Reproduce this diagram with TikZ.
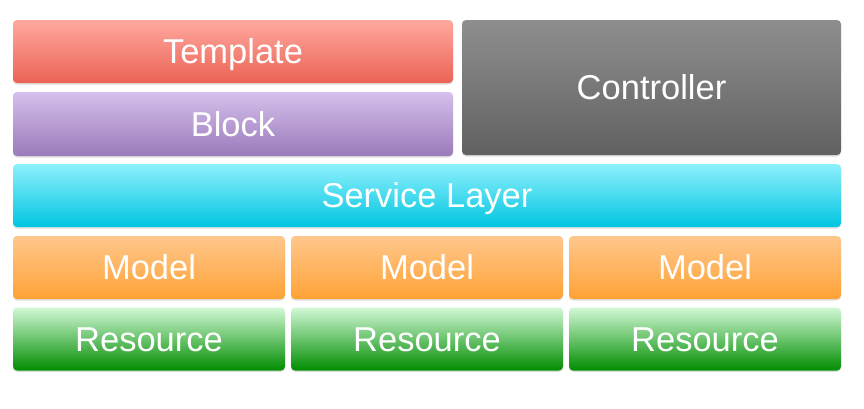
\documentclass[tikz,border=0pt]{standalone}
\usepackage{fontspec}
\setmainfont{Liberation Sans}
\usetikzlibrary{shadows}
\definecolor{tTop}{HTML}{FFA8A0}\definecolor{tBot}{HTML}{EC6354}
\definecolor{bTop}{HTML}{D5C0EC}\definecolor{bBot}{HTML}{9A7ABA}
\definecolor{cTop}{HTML}{8E8E8E}\definecolor{cBot}{HTML}{616161}
\definecolor{sTop}{HTML}{8EF0FC}\definecolor{sBot}{HTML}{00C5E1}
\definecolor{mTop}{HTML}{FFC78D}\definecolor{mBot}{HTML}{FFA235}
\definecolor{rTop}{HTML}{D2F8D6}\definecolor{rBot}{HTML}{008D00}
\tikzset{
  layerbox/.style={rectangle, rounded corners=4pt, inner sep=0pt, outer sep=0pt,
    text=white, font=\fontsize{34.5}{38}\selectfont, text height=24.5pt, text depth=0pt,
    drop shadow={opacity=0.25, shadow xshift=0pt, shadow yshift=-1.5pt}},
  tpl/.style={layerbox, top color=tTop, bottom color=tBot},
  blk/.style={layerbox, top color=bTop, bottom color=bBot},
  ctl/.style={layerbox, top color=cTop, bottom color=cBot},
  svc/.style={layerbox, top color=sTop, bottom color=sBot},
  mdl/.style={layerbox, top color=mTop, bottom color=mBot},
  res/.style={layerbox, top color=rTop, bottom color=rBot},
}
\begin{document}
\begin{tikzpicture}[x=1pt,y=-1pt]
\useasboundingbox (0,0) rectangle (864,408);
\node[tpl, minimum width=440pt, minimum height=63pt] (template) at (233,51.5) {Template};
\node[blk, minimum width=440pt, minimum height=64pt] (block) at (233,124) {Block};
\node[ctl, minimum width=379pt, minimum height=135pt] (controller) at (651.5,87.5) {Controller};
\node[svc, minimum width=828pt, minimum height=63pt] (service) at (427,195.5) {Service Layer};
\node[mdl, minimum width=272pt, minimum height=63pt] (model1) at (149,267.5) {Model};
\node[mdl, minimum width=272pt, minimum height=63pt] (model2) at (427,267.5) {Model};
\node[mdl, minimum width=272pt, minimum height=63pt] (model3) at (705,267.5) {Model};
\node[res, minimum width=272pt, minimum height=63pt] (res1) at (149,339) {Resource};
\node[res, minimum width=272pt, minimum height=63pt] (res2) at (427,339) {Resource};
\node[res, minimum width=272pt, minimum height=63pt] (res3) at (705,339) {Resource};
\end{tikzpicture}
\end{document}
